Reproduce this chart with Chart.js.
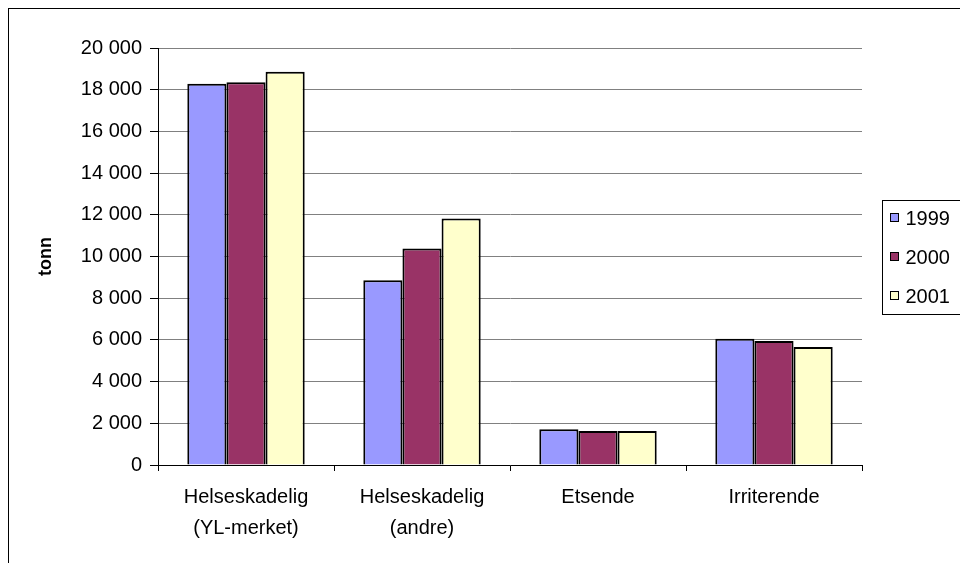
<!DOCTYPE html>
<html>
<head>
<meta charset="utf-8">
<script src="https://cdn.jsdelivr.net/npm/chart.js@4/dist/chart.umd.min.js"></script>
<style>
  html, body { margin: 0; padding: 0; background: #ffffff; }
  #wrap { width: 960px; height: 563px; }
</style>
</head>
<body>
<div id="wrap"><canvas id="c" width="960" height="563"></canvas></div>
<script>
// Merkede kjemikalier etter helsefare, tonn per år
const categories = [['Helseskadelig', '(YL-merket)'], ['Helseskadelig', '(andre)'], 'Etsende', 'Irriterende'];
const years = ['1999', '2000', '2001'];
const values1999 = [18280, 8860, 1720, 6050];
const values2000 = [18360, 10380, 1630, 5950];
const values2001 = [18860, 11820, 1630, 5660];
const seriesColors = ['#9999FF', '#993366', '#FFFFCC'];
const yAxisTitle = 'tonn';
const yMin = 0, yMax = 20000, yStep = 2000;

const FONT = "'Liberation Sans', Arial, sans-serif";

// thousands separated by a space: 20 000
function formatTonn(v) {
  return String(v).replace(/\B(?=(\d{3})+(?!\d))/g, ' ');
}

// outer frame of the chart
const framePlugin = {
  id: 'frame',
  afterDraw(chart) {
    const ctx = chart.ctx;
    ctx.save();
    ctx.strokeStyle = '#000000';
    ctx.lineWidth = 1;
    ctx.strokeRect(8.5, 8.5, 2000, 2000);
    ctx.restore();
  }
};

// boxed legend to the right of the plot area
const boxLegendPlugin = {
  id: 'boxLegend',
  afterDraw(chart) {
    const ctx = chart.ctx;
    const ca = chart.chartArea;
    const cy = (ca.top + ca.bottom) / 2;
    const step = 39;
    const left = Math.round(ca.right + 20) + 0.5;
    const n = chart.data.datasets.length;
    const h = step * n - 3;
    ctx.save();
    ctx.strokeStyle = '#000000';
    ctx.lineWidth = 1;
    ctx.strokeRect(left, Math.round(cy - h / 2) + 0.5, 200, h);
    ctx.font = '20px ' + FONT;
    ctx.textBaseline = 'middle';
    ctx.textAlign = 'left';
    chart.data.datasets.forEach((ds, i) => {
      const y = Math.round(cy + (i - (n - 1) / 2) * step);
      const bx = left + 8;
      ctx.fillStyle = ds.backgroundColor;
      ctx.fillRect(bx, y - 4, 8, 8);
      ctx.strokeStyle = '#000000';
      ctx.strokeRect(bx, y - 4.5, 8, 8);
      ctx.fillStyle = '#000000';
      ctx.fillText(ds.label, bx + 15, y + 1);
    });
    ctx.restore();
  }
};

const seriesValues = [values1999, values2000, values2001];

new Chart(document.getElementById('c'), {
  type: 'bar',
  data: {
    labels: categories,
    datasets: years.map((y, i) => ({
      label: y,
      data: seriesValues[i],
      backgroundColor: seriesColors[i],
      borderColor: '#000000',
      borderWidth: 2,
      categoryPercentage: 0.667,
      barPercentage: 1.0
    }))
  },
  options: {
    responsive: false,
    animation: false,
    devicePixelRatio: 1,
    layout: { padding: { top: 48, right: 98, left: 0, bottom: 0 } },
    plugins: {
      legend: { display: false },
      tooltip: { enabled: false }
    },
    scales: {
      x: {
        offset: true,
        afterFit(scale) { scale.height = 98; },
        grid: {
          offset: true,
          drawOnChartArea: false,
          drawTicks: true,
          tickLength: 6,
          color: '#000000',
          tickColor: '#000000'
        },
        border: { display: true, color: '#000000', width: 1 },
        ticks: {
          color: '#000000',
          font: { family: FONT, size: 20, lineHeight: 1.55 },
          padding: 11,
          autoSkip: false,
          maxRotation: 0,
          minRotation: 0
        }
      },
      y: {
        min: yMin,
        max: yMax,
        afterFit(scale) { scale.width = 158; },
        grid: {
          color: '#808080',
          tickColor: '#000000',
          drawTicks: true,
          tickLength: 8
        },
        border: { display: true, color: '#000000', width: 1 },
        ticks: {
          stepSize: yStep,
          color: '#000000',
          font: { family: FONT, size: 20 },
          padding: 8,
          callback: (v) => formatTonn(v)
        },
        title: {
          display: true,
          text: yAxisTitle,
          color: '#000000',
          font: { family: FONT, size: 18, weight: 'bold', lineHeight: 1.2 },
          padding: { top: 35, bottom: 0 }
        }
      }
    }
  },
  plugins: [framePlugin, boxLegendPlugin]
});
</script>
</body>
</html>
